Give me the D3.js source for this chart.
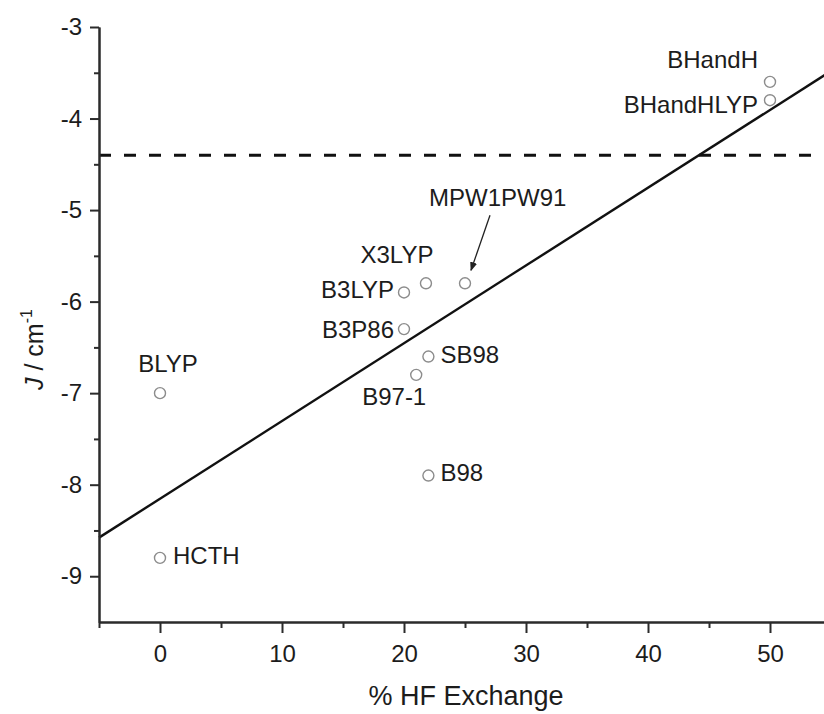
<!DOCTYPE html>
<html>
<head>
<meta charset="utf-8">
<script src="https://cdn.jsdelivr.net/npm/d3@7"></script>
<style>
  html, body { margin: 0; padding: 0; background: #fff; }
  svg { display: block; font-family: "Liberation Sans", Arial, sans-serif; }
</style>
</head>
<body>
<svg id="chart" width="824" height="714"></svg>
<script>
// Functionals: name, % HF exchange, computed J (cm^-1)
const names   = ["BHandH", "BHandHLYP", "MPW1PW91", "X3LYP", "B3LYP", "B3P86", "SB98", "B97-1", "B98", "BLYP", "HCTH"];
const hfExch  = [50, 50, 25, 21.8, 20, 20, 22, 21, 22, 0, 0];
const jValues = [-3.6, -3.8, -5.8, -5.8, -5.9, -6.3, -6.6, -6.8, -7.9, -7.0, -8.8];
// label offsets (px) from each marker and anchor
const labelDx     = [-12, -12, -36, -29, -10, -10, 12, -22, 12, 8, 13];
const labelDy     = [-14, 13, -77, -20, 6, 9, 6, 30, 5, -21, 6];
const labelAnchor = ["end", "end", "start", "middle", "end", "end", "start", "middle", "start", "middle", "start"];

// experimental reference value (dashed)
const jExperimental = -4.4;

const xMajorTicks = [0, 10, 20, 30, 40, 50];
const xMinorTicks = [-5, 5, 15, 25, 35, 45, 55];
const yMajorTicks = [-3, -4, -5, -6, -7, -8, -9];
const yMinorTicks = [-3.5, -4.5, -5.5, -6.5, -7.5, -8.5];

const svg = d3.select("#chart");
const x = d3.scaleLinear().domain([-5, 55]).range([99, 831]);
const y = d3.scaleLinear().domain([-9.5, -3]).range([622, 27]);

const axisColor = "#2b2b2b";
const textColor = "#1c1c1c";

// least-squares fit through the points
const pts = hfExch.map((h, i) => [h, jValues[i]]);
const mx = d3.mean(pts, d => d[0]), my = d3.mean(pts, d => d[1]);
const slope = d3.sum(pts, d => (d[0] - mx) * (d[1] - my)) / d3.sum(pts, d => (d[0] - mx) ** 2);
const intercept = my - slope * mx;

// dashed experimental line
svg.append("line")
  .attr("x1", x(-5)).attr("x2", 824)
  .attr("y1", y(jExperimental)).attr("y2", y(jExperimental))
  .attr("stroke", "#111").attr("stroke-width", 3)
  .attr("stroke-dasharray", "12 13");

// fit line
svg.append("line")
  .attr("x1", x(-5)).attr("y1", y(intercept + slope * -5))
  .attr("x2", x(55)).attr("y2", y(intercept + slope * 55))
  .attr("stroke", "#111").attr("stroke-width", 2.4);

// axes
const xAxis = svg.append("g").attr("transform", `translate(0,${y(-9.5)})`)
  .call(d3.axisBottom(x).tickValues(xMajorTicks).tickSize(11).tickSizeOuter(0).tickPadding(12).tickFormat(d => String(d)));
const xMinor = svg.append("g").attr("transform", `translate(0,${y(-9.5)})`)
  .call(d3.axisBottom(x).tickValues(xMinorTicks).tickSize(6).tickSizeOuter(0).tickFormat(""));
const yAxis = svg.append("g").attr("transform", `translate(${x(-5)},0)`)
  .call(d3.axisLeft(y).tickValues(yMajorTicks).tickSize(9).tickSizeOuter(0).tickPadding(8).tickFormat(d => String(d)));
const yMinor = svg.append("g").attr("transform", `translate(${x(-5)},0)`)
  .call(d3.axisLeft(y).tickValues(yMinorTicks).tickSize(5).tickSizeOuter(0).tickFormat(""));

[xAxis, xMinor, yAxis, yMinor].forEach(g => {
  g.select(".domain").attr("stroke", axisColor).attr("stroke-width", 2);
  g.selectAll(".tick line").attr("stroke", axisColor).attr("stroke-width", 2);
  g.selectAll(".tick text").attr("fill", textColor).style("font-size", "24px")
    .style("font-family", "'Liberation Sans', Arial, sans-serif");
});

// axis titles
svg.append("text")
  .attr("x", 466).attr("y", 705)
  .attr("text-anchor", "middle")
  .attr("fill", textColor).style("font-size", "27px")
  .text("% HF Exchange");

const yTitle = svg.append("text")
  .attr("transform", "translate(43,390) rotate(-90)")
  .attr("text-anchor", "start")
  .attr("fill", textColor).style("font-size", "25px");
yTitle.append("tspan").style("font-style", "italic").text("J");
yTitle.append("tspan").text(" / cm");
yTitle.append("tspan").attr("dy", -11).style("font-size", "16px").text("-1");

// markers
svg.append("g").selectAll("circle")
  .data(pts)
  .join("circle")
  .attr("cx", d => x(d[0])).attr("cy", d => y(d[1]))
  .attr("r", 5.5)
  .attr("fill", "none").attr("stroke", "#8c8c8c").attr("stroke-width", 1.4);

// point labels
svg.append("g").selectAll("text")
  .data(names)
  .join("text")
  .attr("x", (d, i) => x(hfExch[i]) + labelDx[i])
  .attr("y", (d, i) => y(jValues[i]) + labelDy[i])
  .attr("text-anchor", (d, i) => labelAnchor[i])
  .attr("fill", textColor).style("font-size", "24px")
  .text(d => d);

// arrow pointing from the MPW1PW91 label to its marker
const ai = names.indexOf("MPW1PW91");
const px = x(hfExch[ai]), py = y(jValues[ai]);
svg.append("defs").append("marker")
  .attr("id", "arrowhead")
  .attr("viewBox", "0 0 10 10").attr("refX", 9).attr("refY", 5)
  .attr("markerWidth", 9).attr("markerHeight", 9).attr("markerUnits", "userSpaceOnUse")
  .attr("orient", "auto")
  .append("path").attr("d", "M0,1 L10,5 L0,9 Z").attr("fill", "#222");
svg.append("line")
  .attr("x1", px + 25).attr("y1", py - 68)
  .attr("x2", px + 6).attr("y2", py - 13)
  .attr("stroke", "#222").attr("stroke-width", 1.3)
  .attr("marker-end", "url(#arrowhead)");
</script>
</body>
</html>
